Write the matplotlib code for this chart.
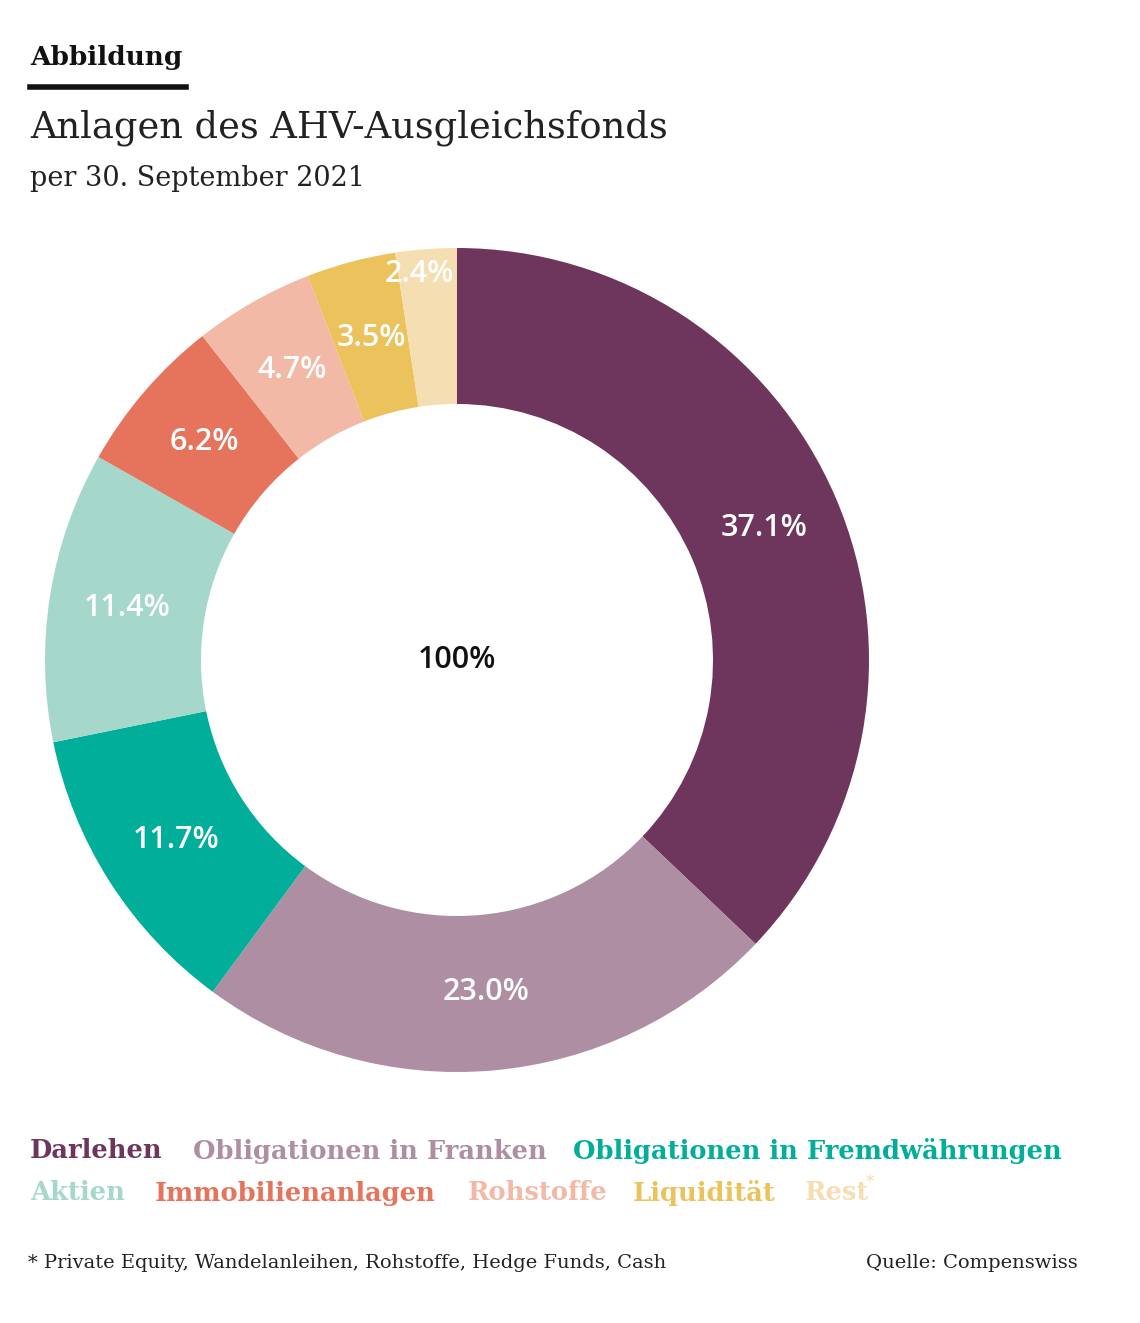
import matplotlib
matplotlib.use("Agg")
import matplotlib.pyplot as plt
import numpy as np

categories = ["Darlehen", "Obligationen in Franken", "Obligationen in Fremdwährungen",
              "Aktien", "Immobilienanlagen", "Rohstoffe", "Liquidität", "Rest"]
values = [37.1, 23.0, 11.7, 11.4, 6.2, 4.7, 3.5, 2.4]
colors = ["#6e365c", "#ad8ea2", "#00ae9a", "#a5d8cb", "#e6735c", "#f2b9a6", "#ebc25c", "#f5deb1"]

W, H = 1140, 1323
fig = plt.figure(figsize=(W/100, H/100), dpi=100)
serif = "DejaVu Serif"

def px(x, y):
    return x / W, 1 - y / H

cx, cy, R = 457, 660, 412
ax = fig.add_axes([(cx-R)/W, (H-cy-R)/H, 2*R/W, 2*R/H])
wedges, _ = ax.pie(values, colors=colors, startangle=90, counterclock=False,
                   radius=1, wedgeprops=dict(width=156/412, linewidth=0))
start = 90
for v, w in zip(values, wedges):
    mid = np.deg2rad(start - v*3.6/2)
    start -= v*3.6
    r = 0.94 if v < 3 else 0.81
    ax.text(r*np.cos(mid) - (0.02 if v < 3 else 0), r*np.sin(mid), f"{v:.1f}%", ha="center", va="center",
            color="white", fontsize=22, family="Open Sans", fontweight="semibold")
ax.text(0, 0, "100%", ha="center", va="center", fontsize=22, family="Open Sans",
        fontweight="semibold", color="#111111")
ax.set_xlim(-1, 1); ax.set_ylim(-1, 1); ax.set_aspect("equal"); ax.axis("off")

fig.text(*px(30, 57), "Abbildung", fontsize=19, fontweight="bold", family=serif, va="center", color="#111")
fig.add_artist(plt.Line2D([30/W, 186/W], [1-87/H, 1-87/H], color="#111", lw=4))
fig.text(*px(30, 128), "Anlagen des AHV-Ausgleichsfonds", fontsize=26.5, family=serif, va="center", color="#222")
fig.text(*px(30, 178), "per 30. September 2021", fontsize=19.5, family=serif, va="center", color="#222")

legend_rows = [[(0, 30), (1, 193), (2, 573)], [(3, 30), (4, 155), (5, 468), (6, 633), (7, 805)]]
for ri, row in enumerate(legend_rows):
    y = 1151 + ri*42
    for i, x in row:
        fig.text(*px(x, y), categories[i], fontsize=18.5, fontweight="bold", family=serif,
                 color=colors[i], va="center")
fig.text(*px(866, 1183), "*", fontsize=12, family=serif, color=colors[7], va="center")

fig.text(*px(28, 1263), "* Private Equity, Wandelanleihen, Rohstoffe, Hedge Funds, Cash",
         fontsize=14, family=serif, va="center", color="#222")
fig.text(*px(1078, 1263), "Quelle: Compenswiss", fontsize=14, family=serif, va="center", ha="right", color="#222")

fig.savefig("out.png", dpi=100)
